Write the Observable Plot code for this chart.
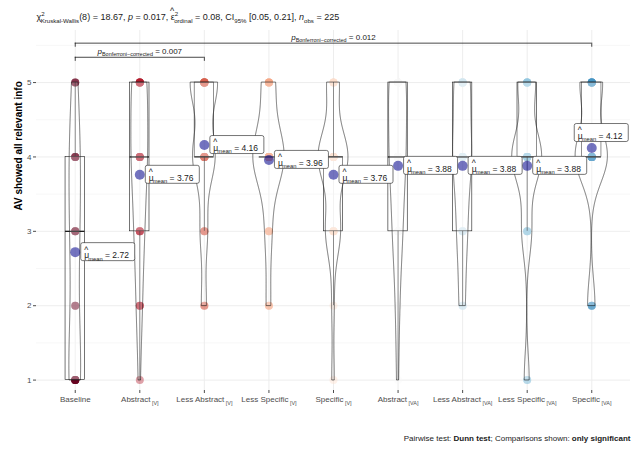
<!DOCTYPE html>
<html><head><meta charset="utf-8">
<script src="https://cdn.jsdelivr.net/npm/d3@7"></script>
<script src="https://cdn.jsdelivr.net/npm/@observablehq/plot@0.6"></script>
<style>
html,body{margin:0;padding:0;background:#fff;}
#chart{width:634px;height:453px;overflow:hidden;}
</style></head><body><div id="chart"></div>
<script>
// ---------- data ----------
const groups = ["Baseline","Abstract [V]","Less Abstract [V]","Less Specific [V]","Specific [V]",
  "Abstract [VA]","Less Abstract [VA]","Less Specific [VA]","Specific [VA]"];
const responseLevels = [1,2,3,4,5];
// number of participants (n = 25 per group) giving response 1..5
const countsBaseline       = [8,3,5,6,3];
const countsAbstractV      = [1,3,5,8,8];
const countsLessAbstractV  = [0,2,3,9,11];
const countsLessSpecificV  = [0,2,3,14,6];
const countsSpecificV      = [1,1,6,12,5];
const countsAbstractVA     = [1,2,5,8,9];
const countsLessAbstractVA = [0,3,5,9,8];
const countsLessSpecificVA = [2,0,4,12,7];
const countsSpecificVA     = [0,3,0,13,9];
const groupMeans = [2.72,3.76,4.16,3.96,3.76,3.88,3.88,3.88,4.12];
const comparisons = [
  {from:"Baseline", to:"Less Abstract [V]", p:"0.007"},
  {from:"Baseline", to:"Specific [VA]", p:"0.012"}
];
const yTicks = [1,2,3,4,5];
const yMinorTicks = [1.5,2.5,3.5,4.5,5.5];
const palette = ["#67001F","#B2182B","#D6604D","#F4A582","#FDDBC7","#F7F7F7","#D1E5F0","#92C5DE","#4393C3"];

// ---------- derived tables ----------
const countsAll = [countsBaseline,countsAbstractV,countsLessAbstractV,countsLessSpecificV,countsSpecificV,
  countsAbstractVA,countsLessAbstractVA,countsLessSpecificVA,countsSpecificVA];
const obs = [];
countsAll.forEach((cs,i)=>cs.forEach((c,k)=>{for(let j=0;j<c;j++) obs.push({i, group:groups[i], value:responseLevels[k]});}));

function nrd0(x){
  const hi = d3.deviation(x);
  const iqr = d3.quantile(x,0.75)-d3.quantile(x,0.25);
  let lo = Math.min(hi, iqr/1.34);
  if(!lo) lo = hi || Math.abs(x[0]) || 1;
  return 0.9*lo*Math.pow(x.length,-0.2);
}
const dens = [];
const boxes = [];
groups.forEach((g,i)=>{
  const x = obs.filter(o=>o.i===i).map(o=>o.value).sort(d3.ascending);
  const bw = nrd0(x), lo = d3.min(x), hi = d3.max(x);
  for(let k=0;k<512;k++){
    const y = lo+(hi-lo)*k/511;
    let s = 0;
    for(const v of x){const u=(y-v)/bw; s+=Math.exp(-0.5*u*u);}
    dens.push({i, y, d:s/(x.length*bw*Math.sqrt(2*Math.PI))});
  }
  const q1=d3.quantile(x,.25), med=d3.quantile(x,.5), q3=d3.quantile(x,.75), iqr=q3-q1;
  boxes.push({i,q1,med,q3,
    lw:d3.min(x.filter(v=>v>=q1-1.5*iqr)), uw:d3.max(x.filter(v=>v<=q3+1.5*iqr))});
});
const dmax = d3.max(dens,d=>d.d);
dens.forEach(d=>{d.x1=d.i-0.25*d.d/dmax; d.x2=d.i+0.25*d.d/dmax;});
const means = groupMeans.map((m,i)=>({i, mean:m}));
const brackets = comparisons.map((c,k)=>({a:groups.indexOf(c.from), b:groups.indexOf(c.to), p:c.p, yb:5.34+0.19*k}));

const ink = "#1a1a1a";
const plot = Plot.plot({
  width:634, height:453,
  marginTop:30, marginBottom:63, marginLeft:36, marginRight:4,
  style:{fontFamily:"'Liberation Sans', Arial, sans-serif", fontSize:"8px", background:"white", overflow:"visible"},
  x:{domain:[-0.6,8.6], axis:null},
  y:{domain:[0.86,5.70], axis:null},
  color:{domain:groups, range:palette},
  marks:[
    Plot.gridY(yMinorTicks,{stroke:"#F2F2F2", strokeOpacity:1, strokeWidth:0.6}),
    Plot.gridY(yTicks,{stroke:"#EBEBEB", strokeOpacity:1, strokeWidth:0.9}),
    Plot.gridX(d3.range(groups.length),{stroke:"#EBEBEB", strokeOpacity:1, strokeWidth:0.9}),
    Plot.dot(obs,{x:"i", y:"value", r:4, fill:"group", fillOpacity:0.4}),
    Plot.ruleX(boxes,{x:"i", y1:"q3", y2:"uw", stroke:ink, strokeWidth:0.6}),
    Plot.ruleX(boxes,{x:"i", y1:"lw", y2:"q1", stroke:ink, strokeWidth:0.6}),
    Plot.rect(boxes,{x1:d=>d.i-0.15, x2:d=>d.i+0.15, y1:"q1", y2:"q3", fill:"white", fillOpacity:0.2, stroke:ink, strokeWidth:0.6}),
    Plot.ruleY(boxes,{y:"med", x1:d=>d.i-0.15, x2:d=>d.i+0.15, stroke:ink, strokeWidth:1.3}),
    Plot.areaX(dens,{y:"y", x1:"x1", x2:"x2", z:"i", fill:"white", fillOpacity:0.2, stroke:ink, strokeWidth:0.6, curve:"linear"}),
    Plot.dot(means,{x:"i", y:"mean", r:5, fill:"#00008B", fillOpacity:0.55}),
    // label boxes
    Plot.rect(means.filter(d=>d.i<8),{x1:"i", x2:"i", y1:"mean", y2:"mean", insetLeft:6, insetRight:-60, insetTop:-9, insetBottom:-9, rx:2, fill:"white", stroke:ink, strokeWidth:0.6}),
    Plot.rect(means.filter(d=>d.i===8),{x1:"i", x2:"i", y1:"mean", y2:"mean", insetLeft:-17, insetRight:-37, insetTop:-24, insetBottom:6, rx:2, fill:"white", stroke:ink, strokeWidth:0.6}),
    Plot.text(means.filter(d=>d.i<8),{x:"i", y:"mean", text:d=>d.mean.toFixed(2), dx:9, dy:3, textAnchor:"start", fontSize:8.5, fill:ink, ariaDescription:"mean-label"}),
    Plot.text(means.filter(d=>d.i===8),{x:"i", y:"mean", text:d=>d.mean.toFixed(2), dx:-14, dy:-12, textAnchor:"start", fontSize:8.5, fill:ink, ariaDescription:"mean-label"}),
    // significance brackets
    Plot.ruleY(brackets,{y:"yb", x1:"a", x2:"b", stroke:ink, strokeWidth:0.8}),
    Plot.ruleX(brackets,{x:"a", y1:"yb", y2:d=>d.yb-0.055, stroke:ink, strokeWidth:0.8}),
    Plot.ruleX(brackets,{x:"b", y1:"yb", y2:d=>d.yb-0.055, stroke:ink, strokeWidth:0.8}),
    Plot.text(brackets,{x:d=>(d.a+d.b)/2, y:"yb", text:"p", dy:-6, fontSize:8, fill:ink, ariaDescription:"bracket-label"}),
    // axes
    Plot.axisY(yTicks,{tickSize:3, tickPadding:2, fontSize:8, color:"#4D4D4D", label:null, tickFormat:d=>String(d)}),
    Plot.axisX(d3.range(groups.length),{tickFormat:i=>groups[i], tickSize:3, tickPadding:3, fontSize:8, color:"#4D4D4D", label:null, ariaDescription:"xlabels"}),
    Plot.text(["AV showed all relevant info"],{text:d=>d, frameAnchor:"left", dx:-18, rotate:-90, fontWeight:"bold", fontSize:10, fill:"black"}),
    Plot.text(["title"],{text:d=>d, frameAnchor:"top-left", dy:-17, textAnchor:"start", fontSize:9, fill:ink, ariaDescription:"title"}),
    Plot.text(["caption"],{text:d=>d, frameAnchor:"bottom-right", dy:50, textAnchor:"end", fontSize:8, fill:ink, ariaDescription:"caption"})
  ]
});
document.getElementById("chart").appendChild(plot);

// ---------- rich text (sub/superscripts, hats) ----------
const NS = "http://www.w3.org/2000/svg";
function rich(el, segs, base){
  while(el.firstChild) el.removeChild(el.firstChild);
  el.setAttribute("style","white-space:pre");
  let shift = 0;
  for(const s of segs){
    const t = document.createElementNS(NS,"tspan");
    const target = s.hat ? -base*0.62 : s.sup ? -base*0.42 : s.sub ? base*0.32 : 0;
    const dy = target-shift;
    if(dy) t.setAttribute("dy", dy.toFixed(2));
    shift = target;
    if(s.sup||s.sub) t.setAttribute("font-size", (base*0.68).toFixed(2));
    if(s.dx) t.setAttribute("dx", s.dx);
    if(s.i) t.setAttribute("font-style","italic");
    if(s.b) t.setAttribute("font-weight","bold");
    t.textContent = s.t;
    el.appendChild(t);
  }
}
const q = sel => Array.from(plot.querySelectorAll(sel));
q('[aria-description="title"] text').forEach(el=>rich(el,[
  {t:"χ"},{t:"2",sup:1},{t:"Kruskal-Wallis",sub:1,dx:-4},{t:"(8) = 18.67, "},{t:"p",i:1},{t:" = 0.017, "},
  {t:"ε"},{t:"^",hat:1,dx:-4.7},{t:"2",sup:1,dx:0.5},{t:"ordinal",sub:1,dx:-4},{t:" = 0.08, CI"},{t:"95%",sub:1},{t:" [0.05, 0.21], "},
  {t:"n",i:1},{t:"obs",sub:1},{t:" = 225"}],9));
q('[aria-description="caption"] text').forEach(el=>rich(el,[
  {t:"Pairwise test: "},{t:"Dunn test",b:1},{t:"; Comparisons shown: "},{t:"only significant",b:1}],8));
q('[aria-description="mean-label"] text').forEach(el=>{const v=el.textContent; rich(el,[{t:"μ"},{t:"^",hat:1,dx:-4.9},{t:"mean",sub:1,dx:0},{t:" = "+v}],8.5);});
q('[aria-description="bracket-label"] text').forEach(el=>{const v=el.textContent; rich(el,[{t:"p",i:1},{t:"Bonferroni−corrected",sub:1},{t:" = "+v}],8);});
q('[aria-description="xlabels"] text').forEach(el=>{const v=el.textContent; const k=v.indexOf(" ["); if(k>0) rich(el,[{t:v.slice(0,k)},{t:" "+v.slice(k+1),sub:1}],8);});
</script></body></html>
